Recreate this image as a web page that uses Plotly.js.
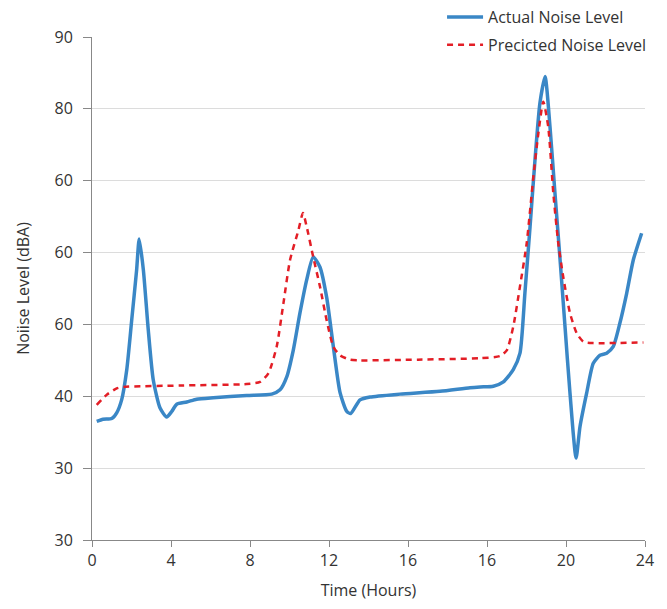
<!DOCTYPE html>
<html><head><meta charset="utf-8">
<script src="https://cdn.plot.ly/plotly-3.0.1.min.js"></script>
<style>html,body{margin:0;padding:0;background:#fff}#chart{width:667px;height:609px}</style>
</head><body><div id="chart"></div>
<script>
// x positions on the evenly spaced time axis (one tick = 4 units)
const actualX = [0.24,0.56,1.0,1.25,1.5,1.76,2.01,2.26,2.39,2.6,2.85,3.1,3.44,3.78,4.04,4.29,4.8,5.3,6.14,7.83,9.1,9.52,9.86,10.19,10.53,10.87,11.2,11.54,11.88,12.22,12.56,12.9,13.1,13.57,14.08,15.59,17.62,19.14,19.65,20.32,20.83,21.33,21.67,21.92,22.18,22.43,22.68,22.94,23.19,23.44,23.7,23.95,24.2,24.51,24.71,25.05,25.38,25.72,26.06,26.39,26.73,27.07,27.41,27.83];
const actualY = [36.5,36.8,36.9,37.7,39.5,43.7,50.6,57.6,61.9,57.6,49.2,42.3,38.4,37.1,37.9,38.9,39.2,39.6,39.8,40.1,40.3,40.9,42.7,46.4,51.6,56.2,59.4,58.0,53.8,46.9,40.5,37.9,37.6,39.5,39.9,40.3,40.7,41.2,41.3,41.4,42.0,43.7,46.0,54.4,63.6,72.9,80.8,84.5,77.5,68.3,59.0,49.7,40.5,31.4,35.8,40.5,44.6,45.7,46.0,46.9,50.2,54.3,59.0,62.7];
const predX = [0.24,0.74,1.25,1.59,4.46,7.83,8.51,8.93,9.35,9.69,10.03,10.45,10.68,10.87,11.2,11.54,11.88,12.22,12.56,13.06,13.57,16.5,19.65,20.66,21.0,21.33,21.67,22.01,22.35,22.6,22.85,23.1,23.36,23.61,23.86,24.2,24.54,24.88,25.38,27.92];
const predY = [38.8,40.2,41.1,41.3,41.5,41.7,42.0,43.2,46.9,52.9,59.0,63.1,65.5,63.6,59.4,55.3,50.6,46.9,45.7,45.1,45.0,45.1,45.3,45.6,46.4,49.7,55.3,61.3,70.6,76.6,81.0,77.5,68.2,61.3,56.6,51.6,48.8,47.6,47.4,47.5];
const xTickVals = [0,4,8,12,16,20,24,28];
const xTickText = ['0','4','8','12','16','16','20','24'];
const yTickVals = [90,80,70,60,50,40,30,20];
const yTickText = ['90','80','60','60','60','40','30','30'];

const fam = 'Open Sans, Noto Sans, sans-serif';
const font = {family:fam, size:16, color:'#333'};
const traces = [
  {x:actualX, y:actualY, name:'Actual Noise Level', mode:'lines', legendgroup:'a',
   line:{color:'#3a87c6', width:3.5, shape:'spline', smoothing:0.6}},
  {x:predX, y:predY, name:'Precicted Noise Level', mode:'lines', legendgroup:'b',
   line:{color:'#e31e26', width:2.5, dash:'6px,5px', shape:'spline', smoothing:0.6}}
];
const layout = {
  width:667, height:609,
  margin:{l:92, r:22, t:0, b:69},
  paper_bgcolor:'#fff', plot_bgcolor:'#fff',
  font:font,
  showlegend:true,
  legend:{x:0.633, xanchor:'left', y:1.0, yanchor:'top', bgcolor:'#fff',
    font:{family:fam, size:16, color:'#333'},
    traceorder:'grouped', tracegroupgap:4, itemwidth:36},
  xaxis:{range:[0,28], tickvals:xTickVals, ticktext:xTickText, showgrid:false,
    showline:true, linecolor:'#888', linewidth:1, ticks:'outside', ticklen:6, tickcolor:'#888',
    zeroline:false, tickfont:font,
    title:{text:'Time (Hours)', font:font, standoff:14}},
  yaxis:{range:[20,90], domain:[0, 503/540], tickvals:yTickVals, ticktext:yTickText, showgrid:true, gridcolor:'#dcdcdc',
    showline:true, linecolor:'#888', linewidth:1, ticks:'outside', ticklen:8, tickcolor:'#888',
    ticklabelstandoff:7,
    zeroline:false, tickfont:font,
    title:{text:'Noiise Level (dBA)', font:font, standoff:20}}
};
Plotly.newPlot('chart', traces, layout, {displayModeBar:false, staticPlot:true});
</script></body></html>
